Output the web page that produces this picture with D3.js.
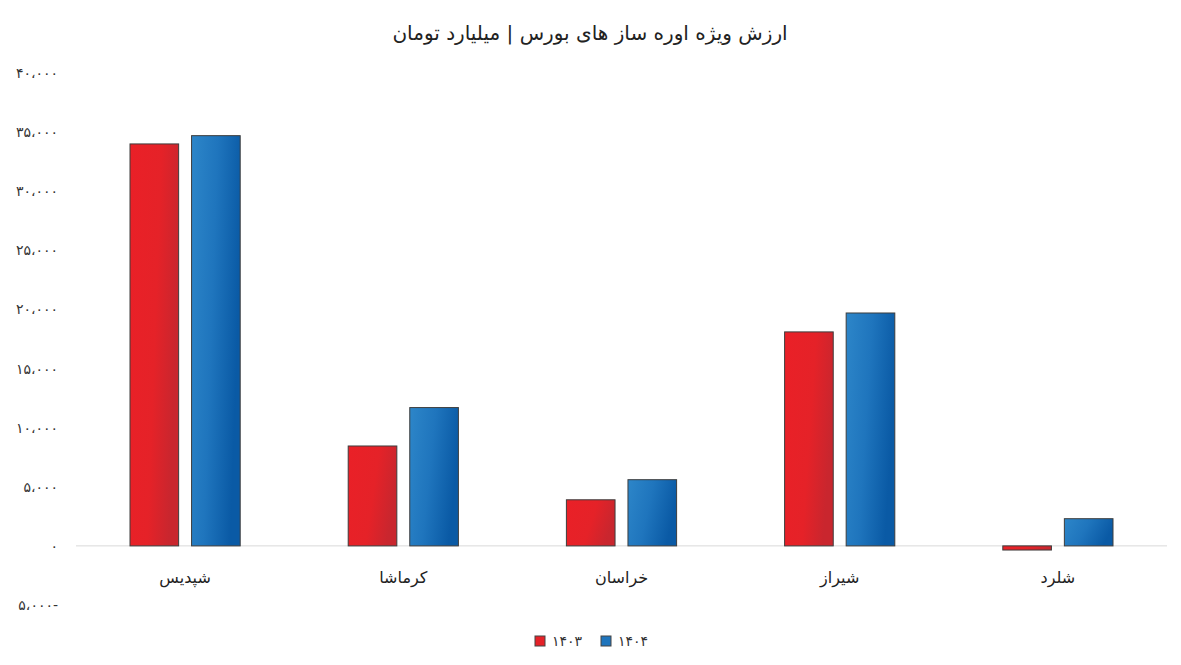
<!DOCTYPE html>
<html><head><meta charset="utf-8">
<script src="https://cdn.jsdelivr.net/npm/d3@7"></script>
<style>body{margin:0;background:#fff;} svg{display:block;font-family:"DejaVu Sans",sans-serif;}</style>
</head><body>
<svg id="c" width="1181" height="665"></svg>
<script>
const categories = ["شپدیس","کرماشا","خراسان","شیراز","شلرد"];
const series = ["۱۴۰۳","۱۴۰۴"];
const values1403 = [34000, 8450, 3900, 18100, -350];
const values1404 = [34700, 11700, 5600, 19700, 2300];
const tickValues = [-5000,0,5000,10000,15000,20000,25000,30000,35000,40000];
const tickLabels = ["۵،۰۰۰-","۰","۵،۰۰۰","۱۰،۰۰۰","۱۵،۰۰۰","۲۰،۰۰۰","۲۵،۰۰۰","۳۰،۰۰۰","۳۵،۰۰۰","۴۰،۰۰۰"];
const title = "ارزش ویژه اوره ساز های بورس | میلیارد تومان";

const svg = d3.select("#c");
const defs = svg.append("defs");
const g1 = defs.append("linearGradient").attr("id","gRed").attr("x1","0").attr("y1","0").attr("x2","1").attr("y2","0.3");
g1.append("stop").attr("offset","0").attr("stop-color","#ea2027");
g1.append("stop").attr("offset","0.6").attr("stop-color","#e52228");
g1.append("stop").attr("offset","1").attr("stop-color","#c9262e");
const g2 = defs.append("linearGradient").attr("id","gBlue").attr("x1","0").attr("y1","0").attr("x2","1").attr("y2","0.3");
g2.append("stop").attr("offset","0").attr("stop-color","#2d86c9");
g2.append("stop").attr("offset","0.5").attr("stop-color","#1f75bd");
g2.append("stop").attr("offset","1").attr("stop-color","#0a5aa5");
const fills = ["url(#gRed)","url(#gBlue)"];
const legendFills = ["#e52228","#1f75bd"];

const y = d3.scaleLinear().domain([-5000,40000]).range([605,73]);
const x0 = d3.scaleBand().domain(categories).range([76,1167]).paddingInner(0).paddingOuter(0);
const x1 = d3.scaleBand().domain(series).range([54, x0.bandwidth()-54]).paddingInner(0.21).paddingOuter(0);

svg.append("text").attr("x",590).attr("y",40).attr("text-anchor","middle")
  .attr("font-size",20).attr("fill","#222").text(title);

// y tick labels
const yAxis = d3.axisLeft(y).tickValues(tickValues).tickSize(0).tickPadding(0)
  .tickFormat((d,i)=>tickLabels[i]);
const ya = svg.append("g").attr("transform","translate(58,0)").call(yAxis);
ya.select(".domain").remove();
ya.selectAll("text").attr("font-size",14).attr("letter-spacing",1).attr("fill","#333")
  .attr("font-family","DejaVu Sans").attr("direction","ltr");

// baseline
svg.append("line").attr("x1",76).attr("x2",1167).attr("y1",y(0)).attr("y2",y(0))
  .attr("stroke","#d9d9d9").attr("stroke-width",1);

const data = categories.map((c,i)=>({c, v:[values1403[i], values1404[i]]}));
const grp = svg.selectAll(".cat").data(data).join("g").attr("transform",d=>`translate(${x0(d.c)},0)`);
grp.selectAll("rect").data(d=>d.v.map((v,j)=>({v,s:series[j],j}))).join("rect")
  .attr("x",d=>x1(d.s)).attr("width",x1.bandwidth())
  .attr("y",d=>y(Math.max(0,d.v))).attr("height",d=>Math.abs(y(d.v)-y(0)))
  .attr("fill",d=>fills[d.j]).attr("stroke","#3d3d3d").attr("stroke-width",1);

// x labels
const xa = svg.append("g").attr("transform",`translate(0,${y(0)})`)
  .call(d3.axisBottom(x0).tickSize(0).tickPadding(26));
xa.select(".domain").remove();
xa.selectAll("text").attr("font-size",16).attr("fill","#222").attr("font-family","DejaVu Sans");

// legend
const lg = svg.append("g").attr("transform","translate(535,641)");
const items = [{s:series[0],f:legendFills[0],x:0},{s:series[1],f:legendFills[1],x:66}];
items.forEach(it=>{
  lg.append("rect").attr("x",it.x).attr("y",-5).attr("width",10).attr("height",10)
    .attr("fill",it.f).attr("stroke","#444");
  lg.append("text").attr("x",it.x+17).attr("y",5).attr("font-size",14).attr("letter-spacing",1).attr("fill","#333")
    .attr("direction","ltr").text(it.s);
});
</script>
</body></html>
